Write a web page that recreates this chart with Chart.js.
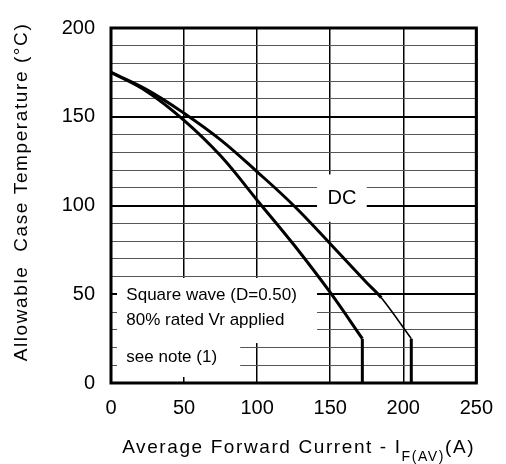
<!DOCTYPE html>
<html>
<head>
<meta charset="utf-8">
<script src="https://cdn.jsdelivr.net/npm/chart.js@4.4.1/dist/chart.umd.min.js"></script>
<style>
  html, body { margin: 0; padding: 0; background: #fff; }
  #wrap { width: 506px; height: 464px; }
</style>
</head>
<body>
<div id="wrap"><canvas id="chart"></canvas></div>
<script>
// Data
const dcCurrent = [0, 25, 50, 75, 100, 125, 150, 175, 185, 205.5];
const dcTemp = [175, 165, 152, 137, 119, 100, 78.5, 56.5, 48, 25];
const dcDropCurrent = [205.5, 205.5];
const dcDropTemp = [25, 0];

const sqCurrent = [0, 25, 50, 75, 100, 125, 150, 172];
const sqTemp = [175, 164, 148, 128, 103, 78, 51, 25];
const sqDropCurrent = [172, 172];
const sqDropTemp = [25, 0];

const xTickValues = [0, 50, 100, 150, 200, 250];
const yTickValues = [0, 50, 100, 150, 200];
const yGridStep = 10;

const FONT = "'Liberation Sans', Arial, sans-serif";

function toPoints(xs, ys) {
  return xs.map((x, i) => ({ x: x, y: ys[i] }));
}

// White label boxes, notes and axis titles
const notesPlugin = {
  id: 'notes',
  beforeDatasetsDraw(chart) {
    const { ctx, chartArea } = chart;
    const xs = chart.scales.x, ys = chart.scales.y;
    ctx.save();
    ctx.fillStyle = '#fff';
    // lower-left note box (stepped)
    const l = chartArea.left + 6;
    const top = ys.getPixelForValue(60) + 1.5;
    const step = ys.getPixelForValue(22.5);
    ctx.fillRect(l, top, xs.getPixelForValue(141) - l, step - top);
    ctx.fillRect(l, step - 1, xs.getPixelForValue(88.4) - l, chartArea.bottom - 6 - step + 1);
    // DC label box
    const dTop = ys.getPixelForValue(117.5);
    const dBot = ys.getPixelForValue(90) - 1.5;
    ctx.fillRect(xs.getPixelForValue(141), dTop, xs.getPixelForValue(175) - xs.getPixelForValue(141), dBot - dTop);

    ctx.fillStyle = '#000';
    ctx.textBaseline = 'middle';
    ctx.font = '17px ' + FONT;
    ctx.textAlign = 'left';
    ctx.fillText('Square wave (D=0.50)', xs.getPixelForValue(10.5), ys.getPixelForValue(49.2));
    ctx.fillText('80% rated Vr applied', xs.getPixelForValue(10.5), ys.getPixelForValue(35.5));
    ctx.fillText('see note (1)', xs.getPixelForValue(10.5), ys.getPixelForValue(14.2));
    ctx.font = '20px ' + FONT;
    ctx.textAlign = 'center';
    ctx.fillText('DC', xs.getPixelForValue(158), ys.getPixelForValue(104));
    ctx.restore();
  },
  afterDraw(chart) {
    const { ctx, chartArea } = chart;
    ctx.save();
    // frame
    ctx.strokeStyle = '#000';
    ctx.lineWidth = 3;
    ctx.strokeRect(chartArea.left, chartArea.top, chartArea.right - chartArea.left, chartArea.bottom - chartArea.top);

    ctx.fillStyle = '#000';
    ctx.letterSpacing = '1.6px';
    // x axis title with subscript
    const main = 'Average Forward Current - I';
    const sub = 'F(AV)';
    const unit = '(A)';
    ctx.font = '19px ' + FONT;
    const wMain = ctx.measureText(main).width;
    const wUnit = ctx.measureText(unit).width;
    ctx.font = '14px ' + FONT;
    const wSub = ctx.measureText(sub).width;
    let x = (chartArea.left + chartArea.right) / 2 + 5 - (wMain + wSub + wUnit) / 2;
    const base = 453;
    ctx.textAlign = 'left';
    ctx.textBaseline = 'alphabetic';
    ctx.font = '19px ' + FONT;
    ctx.fillText(main, x, base);
    x += wMain;
    ctx.font = '14px ' + FONT;
    ctx.fillText(sub, x, base + 8);
    x += wSub;
    ctx.font = '19px ' + FONT;
    ctx.fillText(unit, x, base);

    // y axis title
    ctx.translate(22, 192);
    ctx.rotate(-Math.PI / 2);
    ctx.textAlign = 'center';
    ctx.textBaseline = 'middle';
    ctx.fillText('Allowable  Case Temperature (°C)', 0, 0);
    ctx.restore();
  }
};

const thick = 3;

new Chart(document.getElementById('chart'), {
  type: 'line',
  data: {
    datasets: [
      {
        data: toPoints(dcCurrent, dcTemp),
        borderColor: '#000',
        borderWidth: thick,
        tension: 0.4,
        pointRadius: 0,
        segment: {
          borderWidth: ctx => ctx.p0.parsed.x >= 185 ? 1.6 : thick
        }
      },
      {
        data: toPoints(dcDropCurrent, dcDropTemp),
        borderColor: '#000',
        borderWidth: thick,
        pointRadius: 0
      },
      {
        data: toPoints(sqCurrent, sqTemp),
        borderColor: '#000',
        borderWidth: thick,
        tension: 0.4,
        pointRadius: 0
      },
      {
        data: toPoints(sqDropCurrent, sqDropTemp),
        borderColor: '#000',
        borderWidth: thick,
        pointRadius: 0
      }
    ]
  },
  options: {
    responsive: true,
    maintainAspectRatio: false,
    animation: false,
    layout: { padding: { left: 0, top: 17, right: 21, bottom: 0 } },
    plugins: {
      legend: { display: false },
      tooltip: { enabled: false }
    },
    scales: {
      x: {
        type: 'linear',
        min: 0,
        max: 250,
        afterFit: s => { s.height = 81; },
        afterBuildTicks: s => { s.ticks = xTickValues.map(v => ({ value: v })); },
        ticks: {
          color: '#000',
          font: { family: FONT, size: 20 },
          padding: 13,
          maxRotation: 0,
          autoSkip: false
        },
        grid: {
          drawTicks: false,
          color: '#000',
          lineWidth: 1.5
        },
        border: { display: false }
      },
      y: {
        min: 0,
        max: 200,
        afterFit: s => { s.width = 111; },
        afterBuildTicks: s => {
          const t = [];
          for (let v = s.min; v <= s.max; v += yGridStep) t.push({ value: v });
          s.ticks = t;
        },
        ticks: {
          color: '#000',
          font: { family: FONT, size: 20 },
          padding: 16,
          autoSkip: false,
          callback: v => yTickValues.includes(v) ? v : ''
        },
        grid: {
          drawTicks: false,
          color: c => c.tick && c.tick.value % 50 === 0 ? '#000' : '#555',
          lineWidth: c => c.tick && c.tick.value % 50 === 0 ? 2 : 1
        },
        border: { display: false }
      }
    }
  },
  plugins: [notesPlugin]
});
</script>
</body>
</html>
